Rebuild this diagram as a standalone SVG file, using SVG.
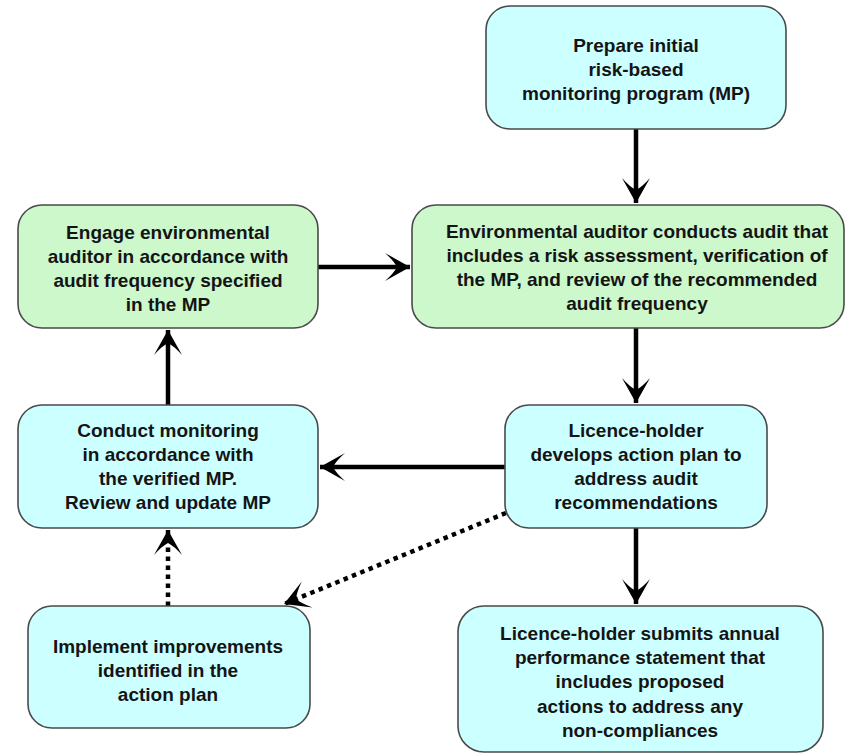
<svg xmlns="http://www.w3.org/2000/svg" width="848" height="755" viewBox="0 0 848 755">
<style>
.box{stroke:#4a4a4a;stroke-width:1.6}
.cyan{fill:#ccffff}
.green{fill:#ccf8cc}
text{font-family:"Liberation Sans",Arial,sans-serif;font-weight:bold;font-size:19px;fill:#141414;text-anchor:middle}
.conn{stroke:#000;stroke-width:4.5;fill:none}
.dot{stroke-dasharray:4.5 4.5}
</style>
<defs>
<marker id="ah" markerUnits="userSpaceOnUse" viewBox="-26 -15 28 30" refX="0" refY="0" markerWidth="28" markerHeight="30" orient="auto">
<path d="M0,0 L-25,-14 Q-16,-6 -13,0 Q-16,6 -25,14 Z" fill="#000"/>
</marker>
</defs>
<rect width="848" height="755" fill="#fff"/>
<g id="connectors">
<line class="conn" x1="636" y1="129" x2="636" y2="203" marker-end="url(#ah)"/>
<line class="conn" x1="318" y1="267" x2="410" y2="267" marker-end="url(#ah)"/>
<line class="conn" x1="636" y1="328" x2="636" y2="403" marker-end="url(#ah)"/>
<line class="conn" x1="505" y1="467" x2="320" y2="467" marker-end="url(#ah)"/>
<line class="conn" x1="168" y1="405" x2="168" y2="330" marker-end="url(#ah)"/>
<line class="conn" x1="636" y1="528" x2="636" y2="604" marker-end="url(#ah)"/>
<line class="conn dot" x1="168" y1="606" x2="168" y2="530" marker-end="url(#ah)"/>
<line class="conn dot" x1="506" y1="513" x2="284" y2="604" marker-end="url(#ah)"/>
</g>
<g id="n1">
<rect class="box cyan" x="486" y="6" width="300" height="123" rx="24"/>
<text x="636" y="52">Prepare initial</text>
<text x="636" y="76">risk-based</text>
<text x="636" y="100">monitoring program (MP)</text>
</g>
<g id="n2">
<rect class="box green" x="18" y="205" width="300" height="123" rx="24"/>
<text x="168" y="239">Engage environmental</text>
<text x="168" y="263">auditor in accordance with</text>
<text x="168" y="287">audit frequency specified</text>
<text x="168" y="311">in the MP</text>
</g>
<g id="n3">
<rect class="box green" x="412" y="205" width="432" height="123" rx="24"/>
<text x="637" y="238">Environmental auditor conducts audit that</text>
<text x="637" y="262">includes a risk assessment, verification of</text>
<text x="637" y="286">the MP, and review of the recommended</text>
<text x="637" y="310">audit frequency</text>
</g>
<g id="n4">
<rect class="box cyan" x="18" y="405" width="300" height="123" rx="24"/>
<text x="168" y="437">Conduct monitoring</text>
<text x="168" y="461">in accordance with</text>
<text x="168" y="485">the verified MP.</text>
<text x="168" y="509">Review and update MP</text>
</g>
<g id="n5">
<rect class="box cyan" x="505" y="405" width="262" height="123" rx="24"/>
<text x="636" y="437">Licence-holder</text>
<text x="636" y="461">develops action plan to</text>
<text x="636" y="485">address audit</text>
<text x="636" y="509">recommendations</text>
</g>
<g id="n6">
<rect class="box cyan" x="458" y="606" width="365" height="146" rx="26"/>
<text x="640" y="640">Licence-holder submits annual</text>
<text x="640" y="664">performance statement that</text>
<text x="640" y="688">includes proposed</text>
<text x="640" y="713">actions to address any</text>
<text x="640" y="737">non-compliances</text>
</g>
<g id="n7">
<rect class="box cyan" x="28" y="606" width="282" height="122" rx="24"/>
<text x="168" y="653">Implement improvements</text>
<text x="168" y="677">identified in the</text>
<text x="168" y="701">action plan</text>
</g>
</svg>
